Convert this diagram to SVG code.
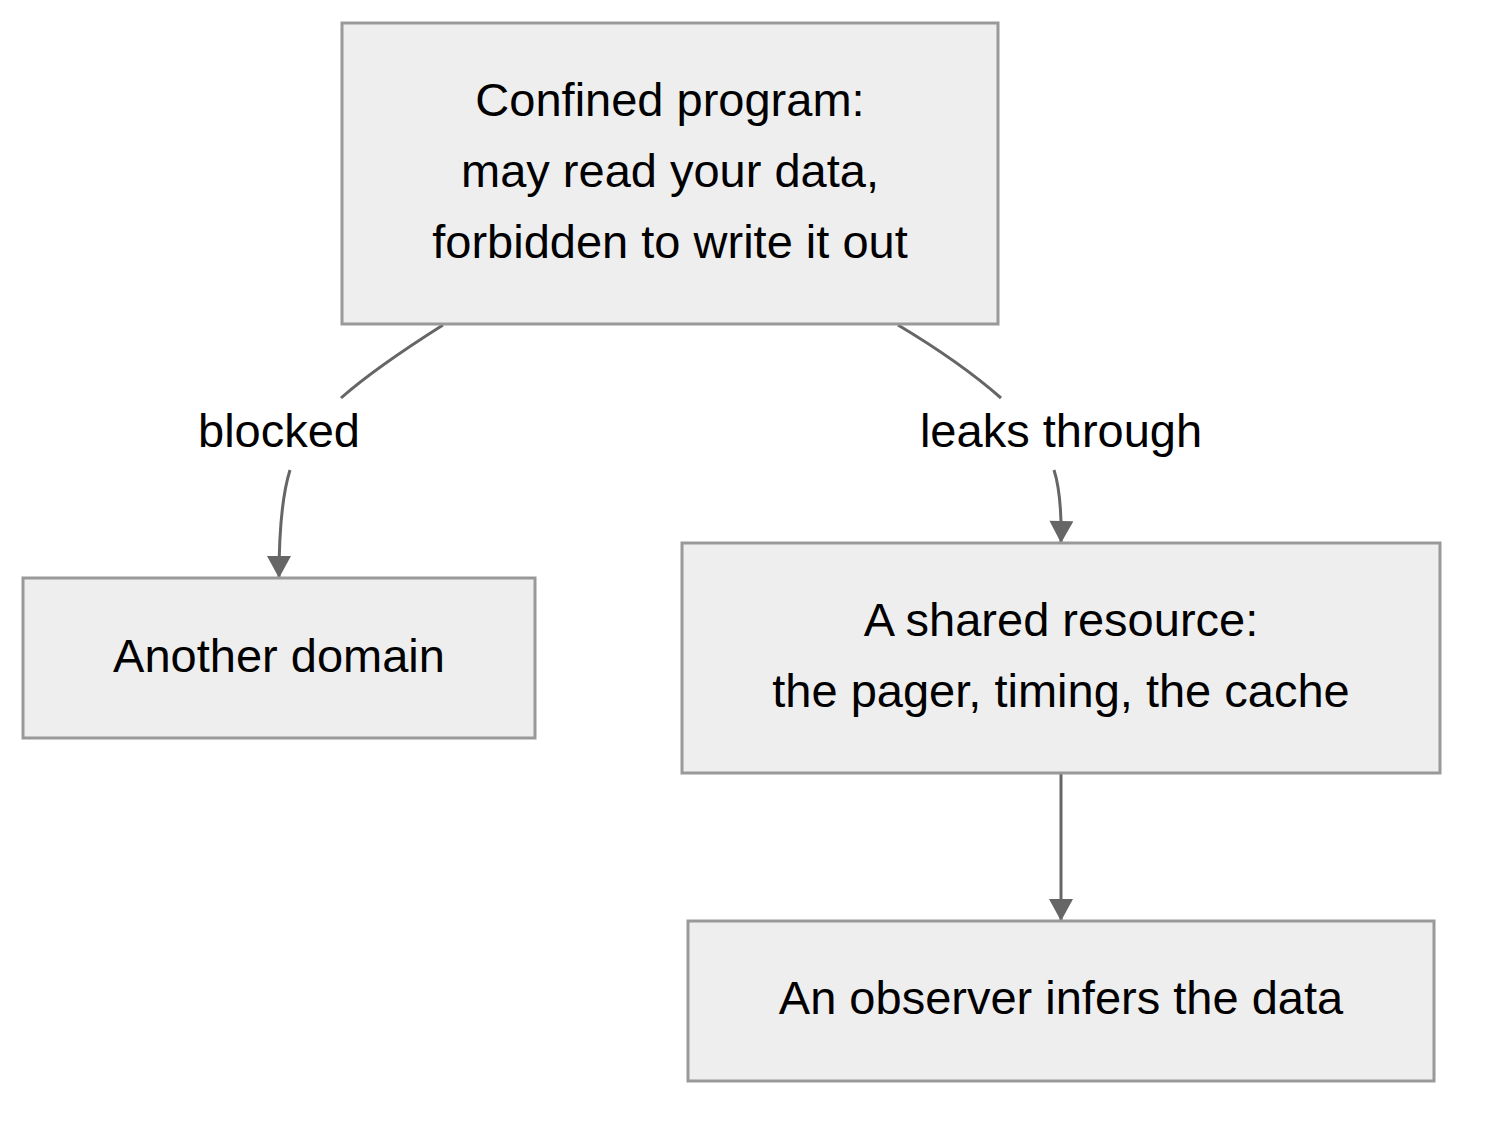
<svg xmlns="http://www.w3.org/2000/svg" width="1488" height="1122" viewBox="0 0 1488 1122">
<style>
.node rect{fill:#eeeeee;stroke:#999999;stroke-width:3}
text{font-family:"Liberation Sans",Arial,sans-serif;font-size:47px;fill:#000;text-anchor:middle}
.edge{fill:none;stroke:#666666;stroke-width:3}
</style>
<defs>
<marker id="arr" markerUnits="userSpaceOnUse" markerWidth="24" markerHeight="24" viewBox="0 0 22 24" refX="22" refY="12" orient="auto">
<path d="M0,0 L22,12 L0,24 z" fill="#666666"/>
</marker>
</defs>
<rect width="1488" height="1122" fill="#ffffff"/>
<g id="connectors">
<path class="edge" d="M443,325 Q375,368 341,398"/>
<path class="edge" d="M290,470 Q279,505 279,578" marker-end="url(#arr)"/>
<path class="edge" d="M898,325 Q960,362 1001,398"/>
<path class="edge" d="M1054,470 Q1062,495 1061,543" marker-end="url(#arr)"/>
<path class="edge" d="M1061,773 L1061,921" marker-end="url(#arr)"/>
<text x="279" y="447">blocked</text>
<text x="1061" y="447">leaks through</text>
</g>
<g id="nodeA" class="node">
<rect x="342" y="23" width="656" height="301"/>
<text x="670" y="116">Confined program:</text>
<text x="670" y="187">may read your data,</text>
<text x="670" y="258">forbidden to write it out</text>
</g>
<g id="nodeB" class="node">
<rect x="23" y="578" width="512" height="160"/>
<text x="279" y="672">Another domain</text>
</g>
<g id="nodeC" class="node">
<rect x="682" y="543" width="758" height="230"/>
<text x="1061" y="636">A shared resource:</text>
<text x="1061" y="707">the pager, timing, the cache</text>
</g>
<g id="nodeD" class="node">
<rect x="688" y="921" width="746" height="160"/>
<text x="1061" y="1014">An observer infers the data</text>
</g>
</svg>
